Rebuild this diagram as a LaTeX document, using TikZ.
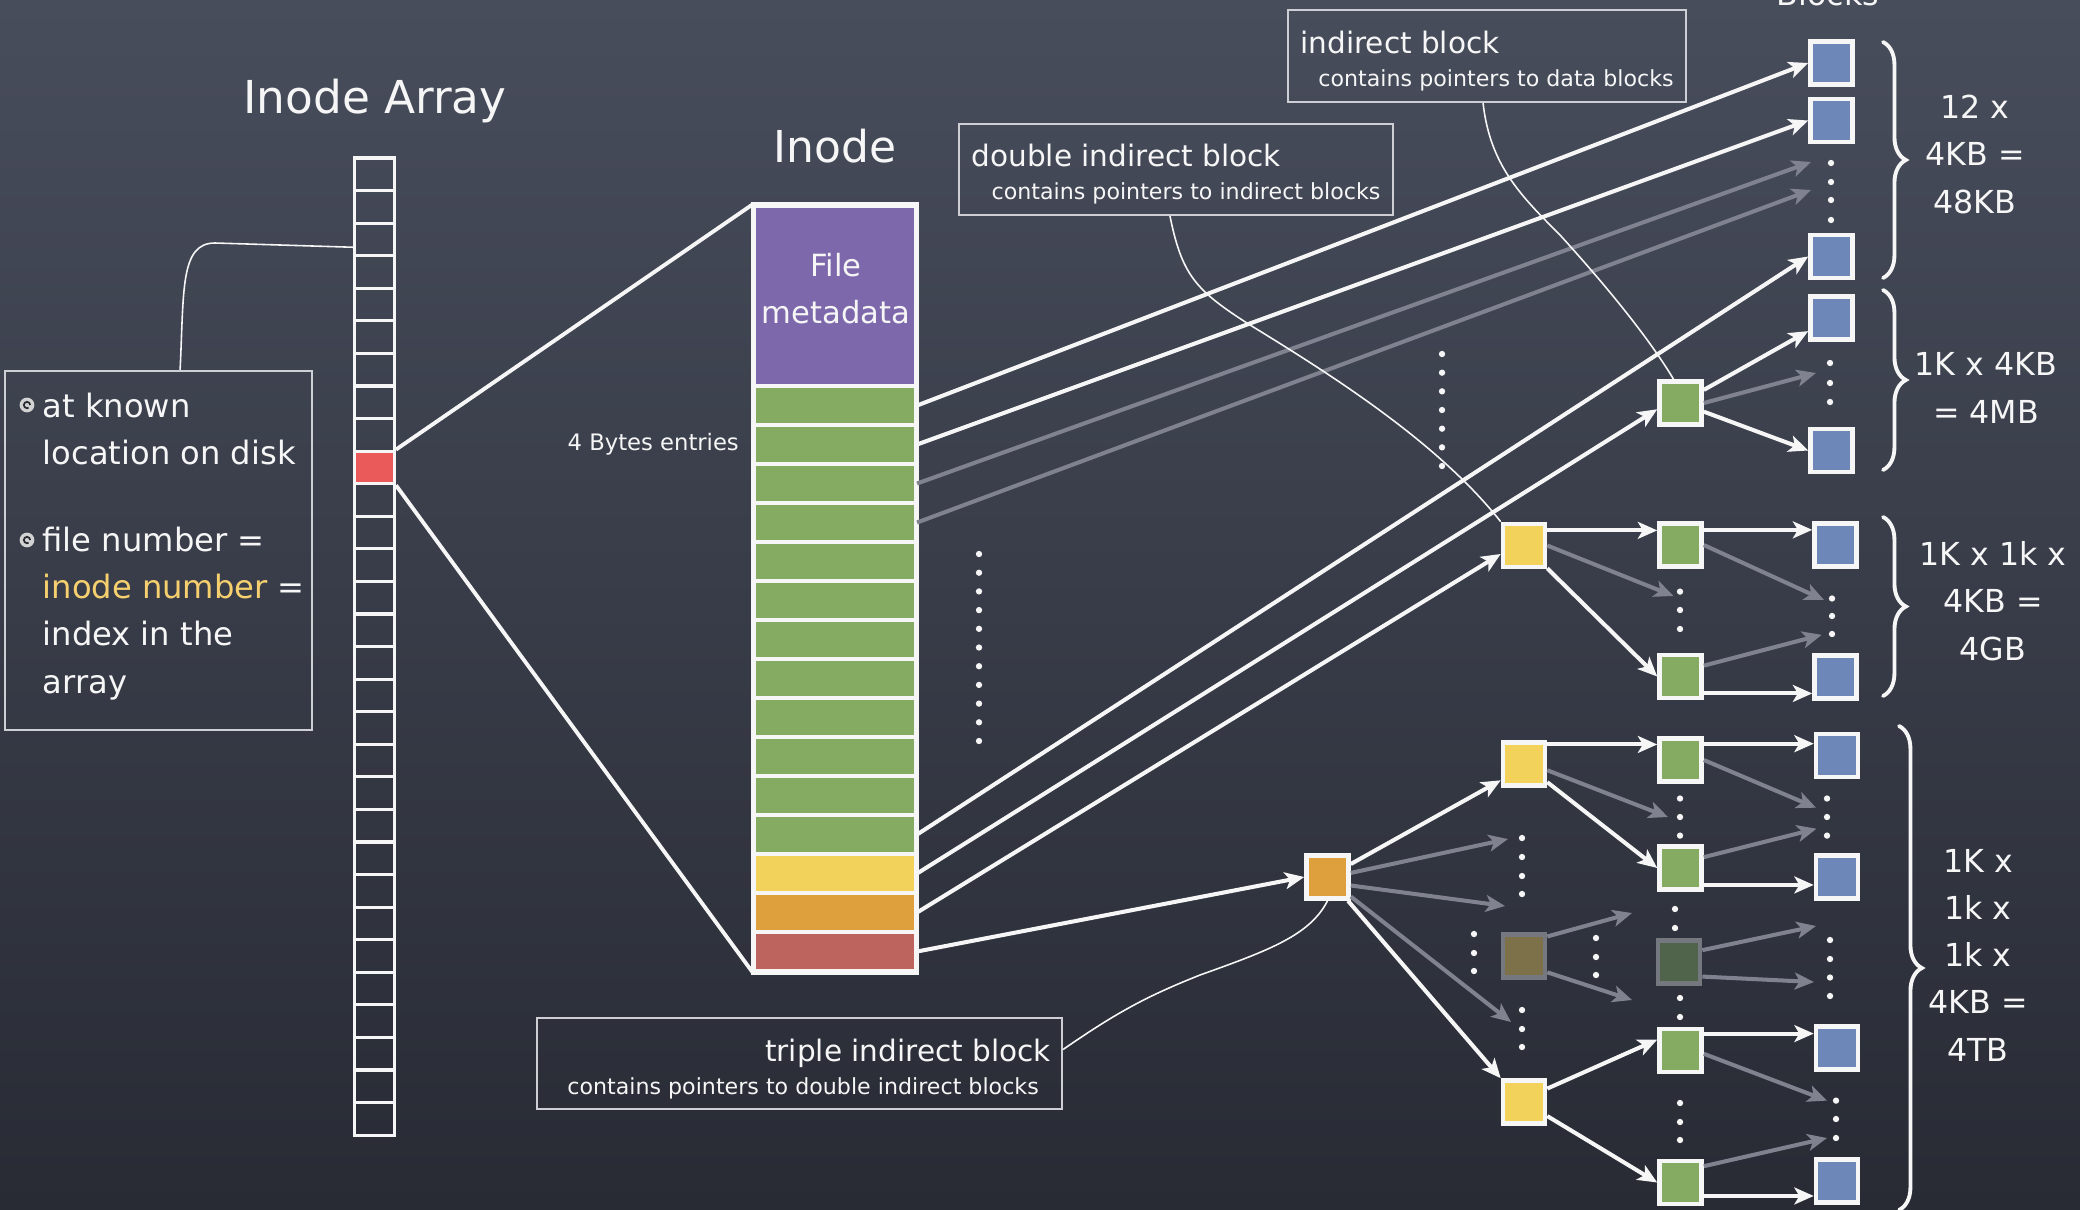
\documentclass[tikz,border=0pt]{standalone}
\usepackage{fontspec}
\setmainfont{DejaVu Sans}
\usetikzlibrary{arrows.meta,calc,decorations.pathreplacing}

\definecolor{boardtop}{RGB}{72,77,92}
\definecolor{boardbot}{RGB}{40,43,52}
\definecolor{chalk}{RGB}{246,246,246}
\definecolor{boxline}{RGB}{205,207,212}
\definecolor{faint}{RGB}{128,131,143}
\definecolor{metapurple}{RGB}{126,104,172}
\definecolor{ptrgreen}{RGB}{133,170,98}
\definecolor{indyellow}{RGB}{243,210,92}
\definecolor{dblorange}{RGB}{221,160,60}
\definecolor{triplered}{RGB}{190,100,95}
\definecolor{slotred}{RGB}{234,90,90}
\definecolor{datablue}{RGB}{108,135,184}
\definecolor{hiyellow}{RGB}{246,208,110}
\definecolor{dimyellow}{RGB}{124,113,72}
\definecolor{dimgreen}{RGB}{80,100,76}
\definecolor{dimedge}{RGB}{118,120,128}

\newcommand\callouttitle{\fontsize{8.4pt}{9.4pt}\selectfont}
\newcommand\calloutsub{\fontsize{6.3pt}{9.4pt}\selectfont}

\tikzset{
  every node/.style={text=chalk, inner sep=0pt},
  slot/.style={draw=chalk, line width=0.9pt, minimum width=0.398cm, minimum height=0.3257cm},
  entry/.style={draw=chalk, line width=1pt, minimum width=1.605cm, minimum height=0.39cm},
  blk/.style={draw=chalk, line width=1.3pt, minimum width=0.42cm, minimum height=0.43cm, outer sep=0.65pt},
  datablk/.style={blk, fill=datablue},
  indblk/.style={blk, fill=ptrgreen},
  dblblk/.style={blk, fill=indyellow},
  trpblk/.style={blk, fill=dblorange},
  dimblk/.style={blk, draw=dimedge},
  ptr/.style={draw=chalk, line width=1.15pt, -{Stealth[length=5.5pt,width=4.8pt,inset=1.4pt]}},
  fptr/.style={ptr, draw=faint},
  link/.style={draw=chalk, line width=1.1pt},
  leader/.style={draw=chalk, line width=0.45pt},
  callout/.style={draw=boxline, line width=0.5pt, font=\fontsize{8.4pt}{9.4pt}\selectfont},
  brace/.style={draw=chalk, line width=1.1pt, line cap=round, decorate, decoration={brace, amplitude=6.5pt}},
  heading/.style={font=\fontsize{12.9pt}{15pt}\selectfont},
  sizelabel/.style={align=center, font=\fontsize{9pt}{13.4pt}\selectfont},
  dot/.style={fill=chalk},
}

\begin{document}
\begin{tikzpicture}[x=0.01cm, y=-0.01cm]
\useasboundingbox (0,0) rectangle (2080,1209);
\clip (0,0) rectangle (2080,1209);
\shade[top color=boardtop, bottom color=boardbot] (0,0) rectangle (2080,1209);

% ---------- inode array ----------
\node[heading, anchor=base] (arraytitle) at (375,113) {Inode Array};
\foreach \i in {1,...,30}{
  \ifnum\i=10 \def\slotfill{slotred}\else\def\slotfill{none}\fi
  \node[slot, fill=\slotfill] (a\i) at (374.5,{158+32.57*(\i-0.5)}) {};
}

% ---------- note on the left ----------
\node[callout, minimum width=3.07cm, minimum height=3.59cm, anchor=north west] (known) at (4,370) {};
% a multi-line node sits on the baseline of its last line
\node[anchor=base west, align=left, font=\fontsize{9.15pt}{13.4pt}\selectfont] (knowntext) at (42,693)
  {at known\\location on disk\\[11.4pt]file number =\\\textcolor{hiyellow}{inode number} =\\index in the\\array};
\foreach \by in {405,540}{
  \fill[chalk!70!gray] (27,\by) circle (2.1pt);
  \draw[boardbot, line width=0.5pt] (27,\by) ++(0.9pt,0) arc (0:300:0.9pt);
}
\coordinate (kl) at ($(known.north west)!0.57!(known.north east)$);
\draw[leader] (kl) .. controls (184,290) and (180,243) .. (215,243) -- (a3.200);

% ---------- inode ----------
\node[heading, anchor=base, font=\fontsize{12.5pt}{15pt}\selectfont] (inodetitle) at (835,162) {Inode};
\node[entry, fill=metapurple, minimum height=1.8cm] (meta) at (835,296) {};
\foreach \i/\c in {1/ptrgreen,2/ptrgreen,3/ptrgreen,4/ptrgreen,5/ptrgreen,6/ptrgreen,7/ptrgreen,8/ptrgreen,9/ptrgreen,10/ptrgreen,11/ptrgreen,12/ptrgreen,13/indyellow,14/dblorange,15/triplered}
  \node[entry, fill=\c] (r\i) at (835,{386+39*(\i-0.5)}) {};
\draw[chalk, line width=1.2pt] (meta.north west) rectangle (r15.south east);
\node[anchor=base, align=center, font=\fontsize{8.7pt}{13.1pt}\selectfont] (metatext) at (836,323) {File\\metadata};
\node[anchor=base west, font=\fontsize{6.45pt}{8pt}\selectfont] (entrysize) at (567,450) {4 Bytes entries};

\draw[link] (a10.north east) -- (meta.north west);
\draw[link] (a10.south east) -- (r15.south west);

% ---------- blocks ----------
\node[sizelabel, anchor=base] (blockshead) at (1828,5) {Blocks};

\node[datablk] (dA) at (1831.5,63) {};
\node[datablk] (dB) at (1831.5,120.5) {};
\node[datablk] (dL) at (1831.5,256.5) {};
\node[datablk] (s1) at (1831.5,318) {};
\node[datablk] (s2) at (1831.5,450.5) {};
\node[datablk] (e1) at (1835.5,545) {};
\node[datablk] (e2) at (1835.5,677) {};
\node[datablk] (k1) at (1837,755.5) {};
\node[datablk] (k2) at (1837,877) {};
\node[datablk] (k3) at (1837,1048) {};
\node[datablk] (k4) at (1837,1181) {};

\node[indblk] (gi) at (1680.5,403) {};
\node[indblk] (g1) at (1680.5,545) {};
\node[indblk] (g2) at (1680.5,676.5) {};
\node[indblk] (h1) at (1680.5,760) {};
\node[indblk] (h2) at (1680.5,868) {};
\node[dimblk, fill=dimgreen] (fg) at (1679,962) {};
\node[indblk] (h3) at (1680.5,1050.5) {};
\node[indblk] (h4) at (1680.5,1182.5) {};

\node[dblblk] (dy) at (1524,545.5) {};
\node[dblblk] (t1) at (1524,764) {};
\node[dimblk, fill=dimyellow] (fy) at (1524,956) {};
\node[dblblk] (t2) at (1524,1102) {};

\node[trpblk] (tr) at (1327.5,877) {};

% free ends of the faded pointers
\coordinate (fd3) at (1811,162);
\coordinate (fd4) at (1811,190);
\coordinate (fs) at (1816,373);
\coordinate (fdy) at (1673.5,596);
\coordinate (fg1) at (1824,600);
\coordinate (fg2) at (1821.7,634.8);
\coordinate (ft1) at (1508,839);
\coordinate (ft2) at (1505,906);
\coordinate (ft3) at (1511,1022);
\coordinate (ffy1) at (1632,913);
\coordinate (ffy2) at (1632,1000);
\coordinate (ftt1) at (1668,817);
\coordinate (fh1) at (1816,807.7);
\coordinate (fh2) at (1816.5,828.7);
\coordinate (ffg1) at (1816,926);
\coordinate (ffg2) at (1814,982);
\coordinate (fh3) at (1827,1100.6);
\coordinate (fh4) at (1827,1138);

% direct pointers
\draw[ptr]  (r1.east) -- (dA.west);
\draw[ptr]  (r2.east) -- (dB.west);
\draw[fptr] (r3.east) -- (fd3);
\draw[fptr] (r4.east) -- (fd4);
\draw[ptr]  (r12.east) -- (dL.west);
% indirect pointers
\draw[ptr]  (r13.east) -- (gi.195);
\draw[ptr]  (r14.east) -- (dy.200);
\draw[ptr]  (r15.east) -- (tr.west);

% single indirect
\draw[ptr]  (gi) -- (s1);
\draw[fptr] (gi.east) -- (fs);
\draw[ptr]  (gi) -- (s2.west);

% double indirect
\draw[ptr]  (dy.33) -- (dy.33 -| g1.west);
\draw[fptr] (dy.east) -- (fdy);
\draw[ptr]  (dy) -- (g2.west);
\draw[ptr]  (g1.33) -- (g1.33 -| e1.west);
\draw[fptr] (g1.east) -- (fg1);
\draw[fptr] (g2.25) -- (fg2);
\draw[ptr]  (g2.-36) -- (g2.-36 -| e2.west);

% triple indirect
\draw[ptr]  (tr) -- (t1.215);
\draw[fptr] (tr.10) -- (ft1);
\draw[fptr] (tr.-20) -- (ft2);
\draw[fptr] (tr.-40) -- (ft3);
\draw[ptr]  (tr) -- (t2.north west);
\draw[fptr] (fy.40) -- (ffy1);
\draw[fptr] (fy.-35) -- (ffy2);
\draw[ptr]  (t1.40) -- (t1.40 -| h1.west);
\draw[fptr] (t1.-15) -- (ftt1);
\draw[ptr]  (t1) -- (h2.west);
\draw[ptr]  (t2.30) -- (h3.155);
\draw[ptr]  (t2) -- (h4.west);
\draw[ptr]  (h1.35) -- (h1.35 -| k1.west);
\draw[fptr] (h1.east) -- (fh1);
\draw[fptr] (h2.25) -- (fh2);
\draw[ptr]  (h2.-36) -- (h2.-36 -| k2.west);
\draw[fptr] (fg.27) -- (ffg1);
\draw[fptr] (fg.-32) -- (ffg2);
\draw[ptr]  (h3.36) -- (h3.36 -| k3.west);
\draw[fptr] (h3.-8) -- (fh3);
\draw[fptr] (h4.35) -- (fh4);
\draw[ptr]  (h4.-30) -- (h4.-30 -| k4.west);

% ---------- dotted continuations ----------
\foreach \i in {0,...,10} \fill[dot] (979,{554+18.7*\i}) circle (0.9pt);
\foreach \i in {0,...,6} \fill[dot] (1442,{354+18.67*\i}) circle (0.9pt);
\foreach \y in {163,182,200,220} \fill[dot] (1831,\y) circle (0.9pt);
\foreach \y in {363,383,402} \fill[dot] (1830,\y) circle (0.9pt);
\foreach \y in {591.6,610,629} \fill[dot] (1680,\y) circle (0.9pt);
\foreach \y in {598.5,616,634} \fill[dot] (1832,\y) circle (0.9pt);
\foreach \y in {838,857,876,894,1010,1029,1047} \fill[dot] (1522,\y) circle (0.9pt);
\foreach \y in {934,953,971} \fill[dot] (1474,\y) circle (0.9pt);
\foreach \y in {938,957,975} \fill[dot] (1596,\y) circle (0.9pt);
\foreach \y in {798.5,817,835.6,998,1017,1103,1122,1140} \fill[dot] (1680,\y) circle (0.9pt);
\foreach \y in {909,928} \fill[dot] (1675,\y) circle (0.9pt);
\foreach \y in {798.5,817,835.6} \fill[dot] (1827,\y) circle (0.9pt);
\foreach \y in {940,959,977.5,996} \fill[dot] (1830,\y) circle (0.9pt);
\foreach \y in {1100.6,1119,1138} \fill[dot] (1836,\y) circle (0.9pt);

% ---------- braces and sizes ----------
\draw[brace] (1883,42) -- (1883,278);
\draw[brace] (1883,290) -- (1883,470);
\draw[brace] (1883,517) -- (1883,696);
\draw[brace] (1899,726) -- (1899,1210);
\node[sizelabel, anchor=base] (size12) at (1975,213) {12 x\\4KB =\\48KB};
\node[sizelabel, anchor=base] (size1k) at (1986,423) {1K x 4KB\\= 4MB};
\node[sizelabel, anchor=base] (size1m) at (1993,660) {1K x 1k x\\4KB =\\4GB};
\node[sizelabel, anchor=base] (size1g) at (1978,1061) {1K x\\1k x\\1k x\\4KB =\\4TB};

% ---------- callouts ----------
\node[callout, minimum width=3.98cm, minimum height=0.92cm, anchor=north west, align=left] (ibox) at (1287,9)
  {\callouttitle\rule{0pt}{9.1pt}indirect block\\\calloutsub\hspace*{0.18cm}contains pointers to data blocks};
\node[callout, minimum width=4.34cm, minimum height=0.91cm, anchor=north west, align=left] (dbox) at (958,123)
  {\callouttitle\rule{0pt}{8.8pt}double indirect block\\\calloutsub\hspace*{0.2cm}contains pointers to indirect blocks};
\node[callout, minimum width=5.25cm, minimum height=0.91cm, anchor=north west, align=right] (tbox) at (536,1017)
  {\callouttitle\rule{0pt}{9.7pt}triple indirect block\\\calloutsub\hspace*{0.19cm}contains pointers to double indirect blocks\hspace*{0.12cm}};

\draw[leader] ($(ibox.south west)!0.49!(ibox.south east)$) .. controls (1490,165) and (1520,195) .. (1560,235)
  .. controls (1610,290) and (1650,340) .. ($(gi.north west)!0.35!(gi.north east)$);
\draw[leader] ($(dbox.south west)!0.486!(dbox.south east)$) .. controls (1182,275) and (1195,290) .. (1250,325)
  .. controls (1340,380) and (1440,445) .. (dy.north west);
\draw[leader] ($(tbox.north east)!0.35!(tbox.south east)$) .. controls (1120,1010) and (1150,995) .. (1200,975)
  .. controls (1270,950) and (1310,935) .. (tr.south);
\end{tikzpicture}
\end{document}
